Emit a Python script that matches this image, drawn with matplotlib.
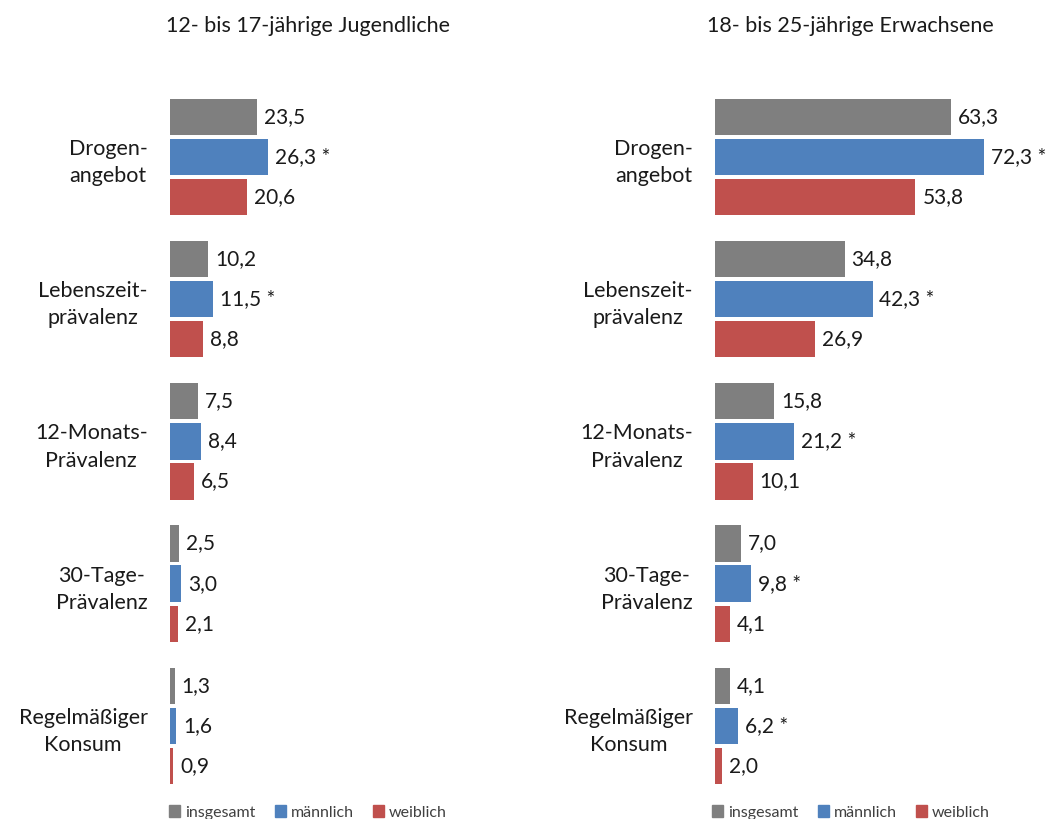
import numpy as np
import matplotlib.pyplot as plt
from matplotlib.patches import Patch

plt.rcParams['font.family'] = ['Lato', 'DejaVu Sans']

# data
categories = ["Drogen-\nangebot", "Lebenszeit-\nprävalenz", "12-Monats-\nPrävalenz",
              "30-Tage-\nPrävalenz", "Regelmäßiger\nKonsum"]
series = ["insgesamt", "männlich", "weiblich"]
colors = ["#7f7f7f", "#4f81bd", "#c0504d"]

jugend_ins = [23.5, 10.2, 7.5, 2.5, 1.3]
jugend_m = [26.3, 11.5, 8.4, 3.0, 1.6]
jugend_w = [20.6, 8.8, 6.5, 2.1, 0.9]
jugend_sig = [True, True, False, False, False]

erw_ins = [63.3, 34.8, 15.8, 7.0, 4.1]
erw_m = [72.3, 42.3, 21.2, 9.8, 6.2]
erw_w = [53.8, 26.9, 10.1, 4.1, 2.0]
erw_sig = [True, True, True, True, True]

titles = ["12- bis 17-jährige Jugendliche", "18- bis 25-jährige Erwachsene"]

fig = plt.figure(figsize=(10.53, 8.19), dpi=100)
ax1 = fig.add_axes([0.1614, 0.027, 0.283, 0.868])
ax2 = fig.add_axes([0.679, 0.027, 0.283, 0.868])

def draw(ax, vals, sig, title, tx):
    y = np.arange(len(categories))
    offs = [-0.282, 0.0, 0.282]
    for k in range(3):
        bars = ax.barh(y + offs[k], vals[k], height=0.255, color=colors[k])
        for i, b in enumerate(bars):
            txt = f"{vals[k][i]:.1f}".replace(".", ",")
            if k == 1 and sig[i]:
                txt += " *"
            ax.annotate(txt, (b.get_width(), b.get_y() + b.get_height() / 2),
                        xytext=(5, 0), textcoords="offset points",
                        va="center", ha="left", fontsize=15, color="#1a1a1a")
    ax.set_xlim(0, 80)
    ax.set_ylim(4.5, -0.5)
    ax.set_yticks(y)
    ax.set_yticklabels(categories, fontsize=15.5, multialignment="center",
                       color="#1a1a1a", linespacing=1.45)
    ax.tick_params(axis="y", length=0, pad=16)
    ax.set_xticks([])
    for s in ax.spines.values():
        s.set_visible(False)
    fig.text(tx, 0.968, title, ha="center", va="center", fontsize=15.5, color="#1a1a1a")
    handles = [Patch(color=c, label=s) for c, s in zip(colors, series)]
    fig.legend(handles=handles, loc="center", bbox_to_anchor=(tx, 0.008), ncol=3,
               frameon=False, fontsize=11.5, handlelength=0.7, handleheight=0.7,
               handletextpad=0.3, columnspacing=1.2, labelcolor="#404040")

draw(ax1, [jugend_ins, jugend_m, jugend_w], jugend_sig, titles[0], 0.2925)
draw(ax2, [erw_ins, erw_m, erw_w], erw_sig, titles[1], 0.808)

fig.savefig("out.png", dpi=100)
